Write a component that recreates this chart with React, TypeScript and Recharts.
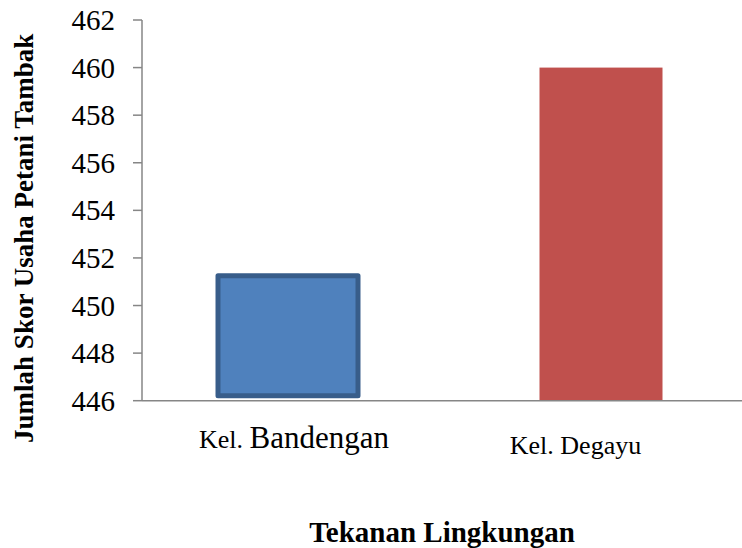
import React from "react";
import { BarChart, Bar, XAxis, YAxis, Label } from "recharts";

const categories = ["Kel. Bandengan", "Kel. Degayu"];
const values = [451.25, 460];
const yTicks = [446, 448, 450, 452, 454, 456, 458, 460, 462];
const xTitle = "Tekanan Lingkungan";
const yTitle = "Jumlah Skor Usaha Petani Tambak";

const data = categories.map((name, i) => ({ name, value: values[i] }));

const FONT = '"Liberation Serif", "Times New Roman", serif';
const AXIS = "#868686";

const XTick = (props: any) => {
  const { x, y, payload, index } = props;
  const parts = String(payload.value).split(" ");
  const prefix = parts[0];
  const rest = parts.slice(1).join(" ");
  const first = index === 0;
  const dx = first ? 6 : -25.5;
  const dy = first ? 47.3 : 53.3;
  return (
    <text
      x={x + dx}
      y={y + dy}
      textAnchor="middle"
      fontFamily={FONT}
      style={{ fontFamily: FONT }}
      fill="#000"
    >
      <tspan fontSize={26}>{prefix} </tspan>
      <tspan fontSize={first ? 31 : 26}>{rest}</tspan>
    </text>
  );
};

const YTick = (props: any) => {
  const { x, y, payload } = props;
  return (
    <g>
      <text
        x={x}
        y={y + 10}
        textAnchor="end"
        fontFamily={FONT}
        style={{ fontFamily: FONT, fontSize: 29 }}
        fontSize={29}
        fill="#000"
      >
        {String(payload.value)}
      </text>
    </g>
  );
};

const BarShape = (props: any) => {
  const { x, y, width, height, index } = props;
  if (index === 0) {
    return (
      <rect
        x={x - 8.5}
        y={y}
        width={width + 17}
        height={height - 5}
        fill="#4F81BD"
        stroke="#385D8A"
        strokeWidth={5}
        strokeLinejoin="round"
      />
    );
  }
  return <rect x={x} y={y} width={width} height={height} fill="#C0504D" />;
};

const XLabel = (props: any) => {
  const vb = props.viewBox || {};
  return (
    <text
      x={442}
      y={vb.y + 141.3}
      textAnchor="middle"
      style={{ fontFamily: FONT }}
      fontFamily={FONT}
      fontWeight="bold"
      fontSize={29}
      fill="#000"
    >
      {xTitle}
    </text>
  );
};

const YLabel = (props: any) => {
  const vb = props.viewBox || {};
  const cx = vb.x + 33;
  const cy = vb.y + vb.height / 2 + 28;
  return (
    <text
      x={cx}
      y={cy}
      transform={`rotate(-90, ${cx}, ${cy})`}
      textAnchor="middle"
      style={{ fontFamily: FONT }}
      fontFamily={FONT}
      fontWeight="bold"
      fontSize={27}
      fill="#000"
    >
      {yTitle}
    </text>
  );
};

export default function App() {
  return (
    <div
      style={{
        position: "absolute",
        left: 0,
        top: 0,
        width: 742,
        height: 548,
        overflow: "hidden",
        background: "#fff",
        fontFamily: FONT,
      }}
    >
      <BarChart
        width={760}
        height={548}
        data={data}
        margin={{ top: 20, right: 2.5, left: 0, bottom: 0 }}
        style={{ fontFamily: FONT }}
      >
        <XAxis
          dataKey="name"
          height={147.3}
          padding={{ left: -10.5, right: 0 }}
          axisLine={{ stroke: AXIS, strokeWidth: 1.5 }}
          tickLine={false}
          tickSize={0}
          tickMargin={0}
          tick={<XTick />}
          interval={0}
        >
          <Label content={(p: any) => <XLabel {...p} />} />
        </XAxis>
        <YAxis
          width={142}
          domain={[446, 462]}
          ticks={yTicks}
          interval={0}
          allowDataOverflow
          axisLine={{ stroke: AXIS, strokeWidth: 1.5 }}
          tickLine={{ stroke: AXIS, strokeWidth: 1.5 }}
          tickSize={9}
          tickMargin={18}
          tick={<YTick />}
        >
          <Label content={(p: any) => <YLabel {...p} />} />
        </YAxis>
        <Bar
          dataKey="value"
          barSize={123}
          isAnimationActive={false}
          shape={(p: any) => <BarShape {...p} />}
        />
      </BarChart>
    </div>
  );
}
